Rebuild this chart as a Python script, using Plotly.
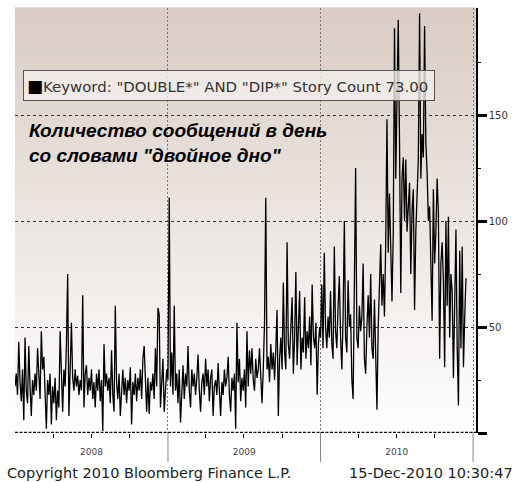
import plotly.graph_objects as go
import pandas as pd

# ---------------- data (one value every 3 days) ----------------
vals_2008 = [22, 28, 18, 43, 24, 15, 30, 6, 45, 20, 14, 41, 22, 8, 25, 18, 28, 20, 40, 24,
             16, 48, 30, 36, 20, 2, 25, 18, 28, 4, 22, 14, 26, 6, 20, 12, 48, 22, 10, 30,
             22, 42, 75, 8, 30, 52, 26, 20, 30, 22, 27, 18, 25, 20, 65, 12, 28, 32, 18, 26,
             20, 30, 16, 24, 12, 28, 20, 30, 15, 25, 1, 42, 22, 28, 20, 26, 14, 39, 18, 10,
             60, 24, 16, 28, 8, 22, 30, 18, 26, 14, 25, 20, 31, 4, 24, 18, 28, 15, 26, 20,
             30, 16, 35, 41, 22, 10, 26, 9, 24, 20, 28, 16, 40, 22, 59, 56, 12, 28, 35, 10,
             24, 30]
vals_2009 = [25, 111, 22, 38, 18, 60, 20, 28, 14, 30, 5, 24, 32, 16, 28, 22, 41, 20, 12, 30,
             22, 28, 18, 26, 37, 20, 10, 24, 28, 18, 35, 22, 30, 15, 26, 30, 8, 22, 25, 18,
             33, 20, 8, 24, 18, 30, 22, 26, 36, 18, 10, 26, 20, 28, 2, 52, 24, 35, 15, 26,
             20, 30, 12, 48, 22, 39, 28, 40, 25, 20, 35, 26, 30, 40, 22, 14, 30, 52, 111, 30,
             36, 24, 42, 30, 38, 25, 40, 58, 8, 35, 45, 30, 71, 38, 30, 90, 42, 35, 50, 64,
             28, 45, 76, 32, 50, 67, 30, 45, 38, 64, 35, 48, 40, 55, 32, 70, 45, 40, 52, 18,
             42, 50]
vals_2010 = [45, 70, 40, 85, 50, 40, 55, 45, 67, 42, 35, 88, 48, 40, 60, 74, 45, 30, 55, 100,
             45, 38, 72, 50, 56, 25, 16, 60, 125, 45, 40, 60, 48, 55, 80, 35, 28, 50, 65, 45,
             75, 40, 35, 63, 40, 11, 50, 70, 89, 60, 75, 55, 90, 148, 85, 113, 80, 62, 94, 191,
             120, 150, 195, 138, 66, 120, 130, 100, 129, 95, 110, 118, 75, 105, 115, 58, 95, 110, 129, 198,
             120, 141, 130, 192, 137, 123, 100, 107, 85, 53, 115, 80, 95, 120, 104, 35, 80, 90, 72, 31,
             100, 60, 102, 45, 75, 67, 26, 55, 96, 40, 13, 86, 40, 88, 31, 55, 73]
years = ["2008", "2009", "2010"]
year_bounds = ["2009-01-01", "2010-01-01", "2011-01-01"]
y_ticks = [0, 50, 100, 150]
y_tick_labels = ["", "50", "100", "150"]
y_minor = [25, 75, 125, 175]
legend_text = 'Keyword: "DOUBLE*" AND "DIP*" Story Count 73.00'
title_lines = ["Количество сообщений в день", "со словами \"двойное дно\""]
copyright_text = "Copyright 2010 Bloomberg Finance L.P."
timestamp_text = "15-Dec-2010 10:30:47"

dates, values = [], []
for yr, vals in zip(years, [vals_2008, vals_2009, vals_2010]):
    dates.extend(pd.date_range(f"{yr}-01-01", periods=len(vals), freq="3D"))
    values.extend(vals)

fig = go.Figure(go.Scatter(x=dates, y=values, mode="lines",
                           line=dict(color="black", width=1.3),
                           showlegend=False, hoverinfo="skip"))

fig.update_layout(width=523, height=482, margin=dict(l=15, r=47, t=8, b=49),
                  paper_bgcolor="white", plot_bgcolor="rgba(0,0,0,0)", showlegend=False)

fig.update_xaxes(range=["2008-01-01", "2011-01-08"], dtick="M12", tick0="2008-01-01",
                 ticklabelmode="period", tickformat="%Y",
                 showgrid=True, gridcolor="#777", griddash="2px,2px", gridwidth=1,
                 ticks="outside", ticklen=10, tickcolor="rgba(0,0,0,0)",
                 tickfont=dict(family="DejaVu Sans", size=9, color="#444"),
                 showline=False, zeroline=False,
                 minor=dict(dtick="M3", tick0="2008-01-01", ticks="outside", ticklen=4,
                            tickcolor="black", tickwidth=1, showgrid=False))

fig.update_yaxes(side="right", range=[0, 200.5], tickvals=y_ticks, ticktext=y_tick_labels,
                 showgrid=True, gridcolor="#333", griddash="3px,3px", gridwidth=1,
                 ticks="outside", ticklen=9, tickwidth=2.5, tickcolor="black",
                 showline=True, linecolor="black", linewidth=1.5, zeroline=False,
                 tickfont=dict(family="DejaVu Sans", size=10, color="#333"),
                 minor=dict(tickvals=y_minor, ticks="outside", ticklen=3, tickcolor="black",
                            tickwidth=1, showgrid=False))

# background gradient (pinkish beige at top fading to white at bottom)
N = 60
top = (217, 204, 196)
for k in range(N):
    t = (k + 0.5) / N
    c = tuple(round(255 + (top[i] - 255) * t) for i in range(3))
    fig.add_shape(type="rect", xref="paper", yref="paper", x0=0, x1=1,
                  y0=k / N, y1=(k + 1) / N + 0.002, line_width=0,
                  fillcolor=f"rgb{c}", layer="below")

# heavy dashed baseline
fig.add_shape(type="line", xref="paper", yref="y", x0=0, x1=1, y0=0, y1=0,
              line=dict(color="black", width=2.5, dash="3px,1.5px"))
# year separators below the axis
for b in year_bounds:
    fig.add_shape(type="line", xref="x", yref="paper", x0=b, x1=b, y0=0, y1=-0.068,
                  line=dict(color="#888", width=1))

# legend box
fig.add_annotation(xref="paper", yref="paper", x=0.017, y=0.854, xanchor="left", yanchor="top",
                   text="<span style='font-size:17px;color:black'>■</span>" + legend_text,
                   showarrow=False, align="left", width=404, height=23,
                   bgcolor="rgba(243,239,236,0.8)", bordercolor="#555", borderwidth=1, borderpad=3,
                   font=dict(family="DejaVu Sans", size=14.9, color="#333"))

# Russian caption
fig.add_annotation(xref="paper", yref="paper", x=0.026, y=0.742, xanchor="left", yanchor="top",
                   text="<b><i>" + "<br>".join(title_lines) + "</i></b>",
                   showarrow=False, align="left",
                   font=dict(family="Liberation Sans, Arial", size=19, color="black"))

fig.add_annotation(xref="paper", yref="paper", x=-0.022, y=-0.094, xanchor="left", yanchor="middle",
                   text=copyright_text, showarrow=False,
                   font=dict(family="DejaVu Sans", size=14.5, color="#222"))
fig.add_annotation(xref="paper", yref="paper", x=1.085, y=-0.094, xanchor="right", yanchor="middle",
                   text=timestamp_text, showarrow=False,
                   font=dict(family="DejaVu Sans", size=14.5, color="#222"))

fig.write_html("out.html", config={"displayModeBar": False},
               post_script="document.body.style.margin='0';")
